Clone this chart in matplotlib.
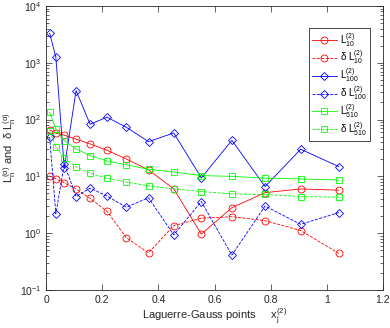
import matplotlib
matplotlib.use("Agg")
import matplotlib.pyplot as plt
from matplotlib.ticker import LogLocator, NullFormatter

plt.rcParams['font.family'] = ['Liberation Sans', 'DejaVu Sans']
plt.rcParams['mathtext.fontset'] = 'custom'
plt.rcParams['mathtext.rm'] = 'Liberation Sans'
plt.rcParams['mathtext.it'] = 'Liberation Sans'
plt.rcParams['mathtext.default'] = 'regular'

# Laguerre-Gauss points
x = [0.013, 0.035, 0.065, 0.107, 0.157, 0.217, 0.286, 0.365, 0.455, 0.553, 0.662, 0.780, 0.907, 1.043]

L10 = [65.6, 57.4, 53, 45, 37.2, 28.8, 20.2, 13.0, 6.0, 0.96, 2.81, 5.16, 6.0, 5.7]
dL10 = [10.2, 9.0, 7.7, 6.0, 4.1, 2.43, 0.83, 0.45, 1.36, 1.83, 1.95, 1.66, 1.11, 0.44]
L100 = [3300, 1250, 14, 323, 82.6, 110, 73, 40.8, 58, 9.4, 43, 6.6, 30, 14.8]
dL100 = [48.8, 2.18, 16.5, 4.4, 6.2, 4.5, 2.86, 4.2, 0.93, 3.6, 0.41, 3.0, 1.43, 2.3]
L510 = [134, 67.5, 42, 30.4, 23.1, 18.7, 15.9, 13.3, 11.9, 10.3, 10.0, 9.3, 9.0, 8.6]
dL510 = [62, 33.3, 20.8, 14.8, 11.3, 9.3, 7.9, 6.8, 6.0, 5.4, 4.9, 4.8, 4.4, 4.3]

labels = [r'$L^{(2)}_{10}$', r'$\delta\ L^{(2)}_{10}$',
          r'$L^{(2)}_{100}$', r'$\delta\ L^{(2)}_{100}$',
          r'$L^{(2)}_{510}$', r'$\delta\ L^{(2)}_{510}$']

xticks = [0, 0.2, 0.4, 0.6, 0.8, 1.0, 1.2]
xticklabels = ['0', '0.2', '0.4', '0.6', '0.8', '1', '1.2']

fig = plt.figure(figsize=(3.9, 3.28), dpi=100)
ax = fig.add_axes([0.118, 0.116, 0.864, 0.866])

red = '#ff0000'
blue = '#0000ff'
green = '#00ff00'
lw = 0.6
ax.plot(x, L10, '-', color=red, marker='o', label=labels[0], lw=lw, ms=5, mfc='none', mew=0.6)
ax.plot(x, dL10, '--', color=red, marker='o', label=labels[1], lw=lw, ms=5, mfc='none', mew=0.6)
ax.plot(x, L100, '-', color=blue, marker='D', label=labels[2], lw=lw, ms=4.2, mfc='none', mew=0.6)
ax.plot(x, dL100, '--', color=blue, marker='D', label=labels[3], lw=lw, ms=4.2, mfc='none', mew=0.6)
ax.plot(x, L510, '-', color=green, marker='s', label=labels[4], lw=lw, ms=4.2, mfc='none', mew=0.6)
ax.plot(x, dL510, '--', color=green, marker='s', label=labels[5], lw=lw, ms=4.2, mfc='none', mew=0.6)

ax.set_yscale('log')
ax.set_xlim(0, 1.2)
ax.set_ylim(1e-1, 1e4)
ax.set_xticks(xticks)
ax.set_xticklabels(xticklabels)
ax.yaxis.set_major_locator(LogLocator(base=10, numticks=10))
ax.yaxis.set_minor_locator(LogLocator(base=10, subs=range(2, 10), numticks=20))
ax.yaxis.set_minor_formatter(NullFormatter())

ax.tick_params(which='both', direction='in', top=True, right=True, labelsize=7.5, colors='#262626', width=0.5)
ax.tick_params(which='major', length=4)
ax.tick_params(which='minor', length=2)
for s in ax.spines.values():
    s.set_linewidth(0.6)
    s.set_color('#262626')

ax.set_ylabel(r'$L^{(\alpha)}_{n}$ and  $\delta\ L^{(\alpha)}_{n}$', fontsize=8, color='#262626', labelpad=1)
ax.set_xlabel(r'Laguerre-Gauss points     $x^{(2)}_{j}$', fontsize=8, color='#262626')
ax.xaxis.set_label_coords(0.5, -0.058)
ax.xaxis.label.set_verticalalignment('top')

leg = ax.legend(loc='upper right', bbox_to_anchor=(0.975, 0.94), fontsize=7,
                fancybox=False, edgecolor='#262626', framealpha=1,
                handlelength=2.6, labelspacing=0.0, borderpad=0.3, handletextpad=0.3)
leg.get_frame().set_linewidth(0.6)

fig.savefig('out.png', dpi=100)
